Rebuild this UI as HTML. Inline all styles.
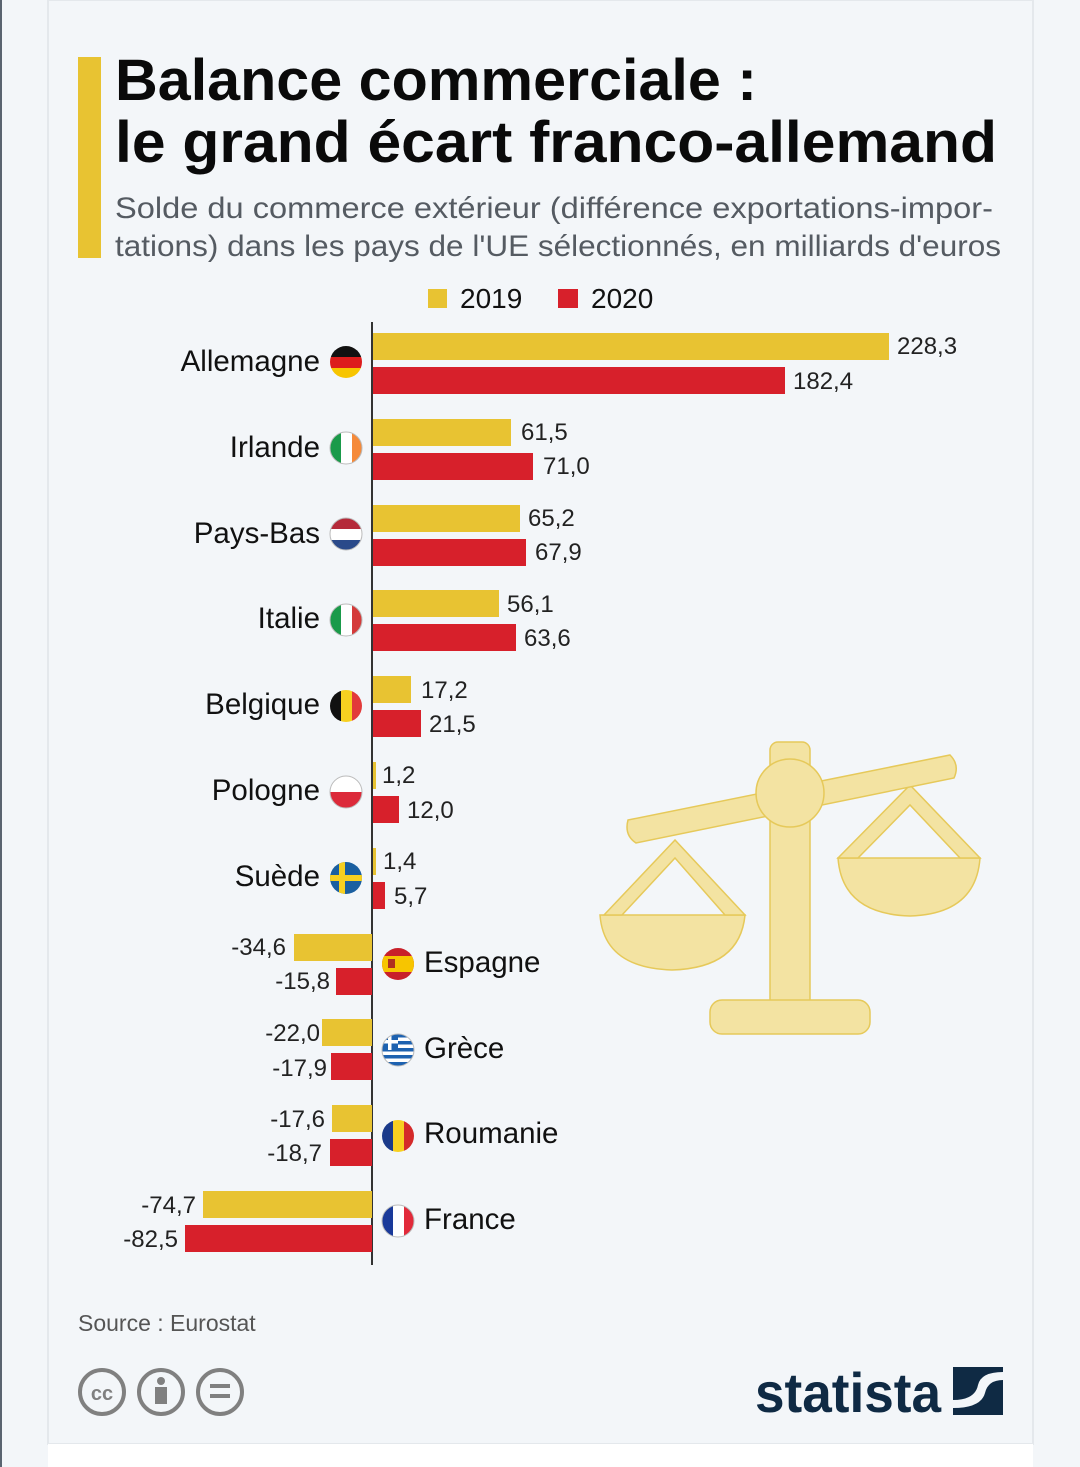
<!DOCTYPE html>
<html><head><meta charset="utf-8"><style>
html,body{margin:0;padding:0;background:#f3f6f9;}
svg{display:block}
text{font-family:"Liberation Sans",sans-serif}
</style></head><body>
<svg width="1080" height="1467" viewBox="0 0 1080 1467" xmlns="http://www.w3.org/2000/svg">
<defs>
<clipPath id="fc"><circle cx="0" cy="0" r="16"/></clipPath>
</defs>
<rect x="0" y="0" width="1080" height="1467" fill="#f3f6f9"/>
<rect x="0" y="0" width="2" height="1467" fill="#5a6470"/>
<rect x="48" y="0" width="985" height="1444" fill="#f3f6f9" stroke="#e4e8ec" stroke-width="2"/>
<rect x="48" y="1444" width="985" height="23" fill="#ffffff"/>
<rect x="78" y="57" width="23" height="201" fill="#e8c332"/>
<text x="115" y="100" font-size="58" font-weight="bold" fill="#0a0a0a" textLength="642" lengthAdjust="spacingAndGlyphs">Balance commerciale :</text>
<text x="115" y="162" font-size="58" font-weight="bold" fill="#0a0a0a" textLength="882" lengthAdjust="spacingAndGlyphs">le grand écart franco-allemand</text>
<text x="115" y="218" font-size="30" fill="#555b62" textLength="878" lengthAdjust="spacingAndGlyphs">Solde du commerce extérieur (différence exportations-impor-</text>
<text x="115" y="256" font-size="30" fill="#555b62" textLength="886" lengthAdjust="spacingAndGlyphs">tations) dans les pays de l'UE sélectionnés, en milliards d'euros</text>
<rect x="428" y="289" width="19" height="19" fill="#e8c332"/>
<text x="460" y="308" font-size="28" fill="#111">2019</text>
<rect x="558" y="289" width="20" height="19" fill="#d7202b"/>
<text x="591" y="308" font-size="28" fill="#111">2020</text>

<!-- scale icon -->
<g fill="#f3e3a2" stroke="#e6c95a" stroke-width="1.5">
<path d="M600 915 L745 915 Q740 968 672 970 Q604 968 600 915 Z"/>
<path d="M838 858 L980 858 Q976 914 910 916 Q842 914 838 858 Z"/>
<path d="M675 840 L604 915 L622 915 L675 858 L725 915 L745 915 Z"/>
<path d="M910 785 L838 858 L858 858 L910 805 L960 858 L980 858 Z"/>
<rect x="770" y="742" width="40" height="280" rx="8"/>
<rect x="710" y="1000" width="160" height="34" rx="12"/>
<path d="M628 820 L950 755 Q960 765 954 778 L636 843 Q624 835 628 820 Z"/>
<circle cx="790" cy="793" r="34"/>
</g>

<line x1="372" y1="322" x2="372" y2="1265" stroke="#333" stroke-width="2"/>

<g font-size="24" fill="#222">
<rect x="373" y="333" width="516" height="27" fill="#e8c332"/><rect x="373" y="367" width="412" height="27" fill="#d7202b"/>
<text x="897" y="354">228,3</text><text x="793" y="389">182,4</text>
<rect x="373" y="419" width="138" height="27" fill="#e8c332"/><rect x="373" y="453" width="160" height="27" fill="#d7202b"/>
<text x="521" y="440">61,5</text><text x="543" y="474">71,0</text>
<rect x="373" y="505" width="147" height="27" fill="#e8c332"/><rect x="373" y="539" width="153" height="27" fill="#d7202b"/>
<text x="528" y="526">65,2</text><text x="535" y="560">67,9</text>
<rect x="373" y="590" width="126" height="27" fill="#e8c332"/><rect x="373" y="624" width="143" height="27" fill="#d7202b"/>
<text x="507" y="612">56,1</text><text x="524" y="646">63,6</text>
<rect x="373" y="676" width="38" height="27" fill="#e8c332"/><rect x="373" y="710" width="48" height="27" fill="#d7202b"/>
<text x="421" y="698">17,2</text><text x="429" y="732">21,5</text>
<rect x="373" y="762" width="3" height="27" fill="#e8c332"/><rect x="373" y="796" width="26" height="27" fill="#d7202b"/>
<text x="382" y="783">1,2</text><text x="407" y="818">12,0</text>
<rect x="373" y="848" width="3" height="27" fill="#e8c332"/><rect x="373" y="882" width="12" height="27" fill="#d7202b"/>
<text x="383" y="869">1,4</text><text x="394" y="904">5,7</text>
<g text-anchor="end">
<rect x="294" y="934" width="78" height="27" fill="#e8c332"/><rect x="336" y="968" width="36" height="27" fill="#d7202b"/>
<text x="286" y="955">-34,6</text><text x="330" y="989">-15,8</text>
<rect x="322" y="1019" width="50" height="27" fill="#e8c332"/><rect x="331" y="1053" width="41" height="27" fill="#d7202b"/>
<text x="320" y="1041">-22,0</text><text x="327" y="1076">-17,9</text>
<rect x="332" y="1105" width="40" height="27" fill="#e8c332"/><rect x="330" y="1139" width="42" height="27" fill="#d7202b"/>
<text x="325" y="1127">-17,6</text><text x="322" y="1161">-18,7</text>
<rect x="203" y="1191" width="169" height="27" fill="#e8c332"/><rect x="185" y="1225" width="187" height="27" fill="#d7202b"/>
<text x="196" y="1213">-74,7</text><text x="178" y="1247">-82,5</text>
</g>
</g>

<g font-size="29.5" fill="#111">
<g text-anchor="end">
<text x="320" y="371">Allemagne</text>
<text x="320" y="457">Irlande</text>
<text x="320" y="543">Pays-Bas</text>
<text x="320" y="628">Italie</text>
<text x="320" y="714">Belgique</text>
<text x="320" y="800">Pologne</text>
<text x="320" y="886">Suède</text>
</g>
<text x="424" y="972">Espagne</text>
<text x="424" y="1058">Grèce</text>
<text x="424" y="1143">Roumanie</text>
<text x="424" y="1229">France</text>
</g>

<!-- flags -->
<g transform="translate(346,362)"><g clip-path="url(#fc)"><rect x="-16" y="-16" width="32" height="11" fill="#111"/><rect x="-16" y="-5" width="32" height="11" fill="#dd1c1c"/><rect x="-16" y="6" width="32" height="10" fill="#f7c500"/></g></g>
<g transform="translate(346,448)"><g clip-path="url(#fc)"><rect x="-16" y="-16" width="11" height="32" fill="#1a9a4a"/><rect x="-5" y="-16" width="11" height="32" fill="#fff"/><rect x="6" y="-16" width="10" height="32" fill="#f58a3a"/></g><circle r="16" fill="none" stroke="#bbb"/></g>
<g transform="translate(346,534)"><g clip-path="url(#fc)"><rect x="-16" y="-16" width="32" height="11" fill="#b52a3a"/><rect x="-16" y="-5" width="32" height="11" fill="#fff"/><rect x="-16" y="6" width="32" height="10" fill="#2a4a8a"/></g><circle r="16" fill="none" stroke="#bbb"/></g>
<g transform="translate(346,620)"><g clip-path="url(#fc)"><rect x="-16" y="-16" width="11" height="32" fill="#1a9a4a"/><rect x="-5" y="-16" width="11" height="32" fill="#fff"/><rect x="6" y="-16" width="10" height="32" fill="#d43a3a"/></g><circle r="16" fill="none" stroke="#bbb"/></g>
<g transform="translate(346,706)"><g clip-path="url(#fc)"><rect x="-16" y="-16" width="11" height="32" fill="#111"/><rect x="-5" y="-16" width="11" height="32" fill="#f7d020"/><rect x="6" y="-16" width="10" height="32" fill="#e23a3a"/></g></g>
<g transform="translate(346,792)"><g clip-path="url(#fc)"><rect x="-16" y="-16" width="32" height="16" fill="#fff"/><rect x="-16" y="0" width="32" height="16" fill="#dc2a3a"/></g><circle r="16" fill="none" stroke="#bbb"/></g>
<g transform="translate(346,878)"><g clip-path="url(#fc)"><rect x="-16" y="-16" width="32" height="32" fill="#1a5fa0"/><rect x="-16" y="-3" width="32" height="6" fill="#f7d020"/><rect x="-7" y="-16" width="6" height="32" fill="#f7d020"/></g></g>
<g transform="translate(398,964)"><g clip-path="url(#fc)"><rect x="-16" y="-16" width="32" height="32" fill="#c8202a"/><rect x="-16" y="-8" width="32" height="16" fill="#f7c500"/><rect x="-10" y="-5" width="7" height="9" fill="#b03020"/></g></g>
<g transform="translate(398,1050)"><g clip-path="url(#fc)"><rect x="-16" y="-16" width="32" height="32" fill="#fff"/><rect x="-16" y="-16" width="32" height="3.5" fill="#1e62b0"/><rect x="-16" y="-9" width="32" height="3.5" fill="#1e62b0"/><rect x="-16" y="-2" width="32" height="3.5" fill="#1e62b0"/><rect x="-16" y="5" width="32" height="3.5" fill="#1e62b0"/><rect x="-16" y="12" width="32" height="4" fill="#1e62b0"/><rect x="-16" y="-16" width="16" height="16" fill="#1e62b0"/><rect x="-16" y="-10" width="16" height="3.5" fill="#fff"/><rect x="-10" y="-16" width="3.5" height="16" fill="#fff"/></g><circle r="16" fill="none" stroke="#bbb"/></g>
<g transform="translate(398,1136)"><g clip-path="url(#fc)"><rect x="-16" y="-16" width="11" height="32" fill="#1a3a8a"/><rect x="-5" y="-16" width="11" height="32" fill="#f7d020"/><rect x="6" y="-16" width="10" height="32" fill="#d42a2a"/></g></g>
<g transform="translate(398,1221)"><g clip-path="url(#fc)"><rect x="-16" y="-16" width="11" height="32" fill="#1a3a9a"/><rect x="-5" y="-16" width="11" height="32" fill="#fff"/><rect x="6" y="-16" width="10" height="32" fill="#e22a3a"/></g><circle r="16" fill="none" stroke="#bbb"/></g>

<text x="78" y="1331" font-size="23" fill="#555">Source : Eurostat</text>
<g fill="none" stroke="#808080" stroke-width="4">
<circle cx="102" cy="1392" r="22"/><circle cx="161" cy="1392" r="22"/><circle cx="220" cy="1392" r="22"/>
</g>
<text x="102" y="1400" font-size="20" font-weight="bold" fill="#808080" text-anchor="middle">cc</text>
<circle cx="161" cy="1381" r="4" fill="#808080"/><rect x="155" y="1387" width="12" height="17" fill="#808080"/>
<rect x="210" y="1384" width="20" height="4" fill="#808080"/><rect x="210" y="1394" width="20" height="4" fill="#808080"/>
<text x="755" y="1412" font-size="56" font-weight="bold" fill="#0f2a44" textLength="186" lengthAdjust="spacingAndGlyphs">statista</text>
<rect x="953" y="1367" width="50" height="48" fill="#0f2a44"/>
<path d="M953 1400 Q975 1400 978 1385 Q981 1372 1003 1372 L1003 1380 Q988 1380 985 1393 Q981 1408 953 1408 Z" fill="#f3f6f9"/>
</svg>
</body></html>
